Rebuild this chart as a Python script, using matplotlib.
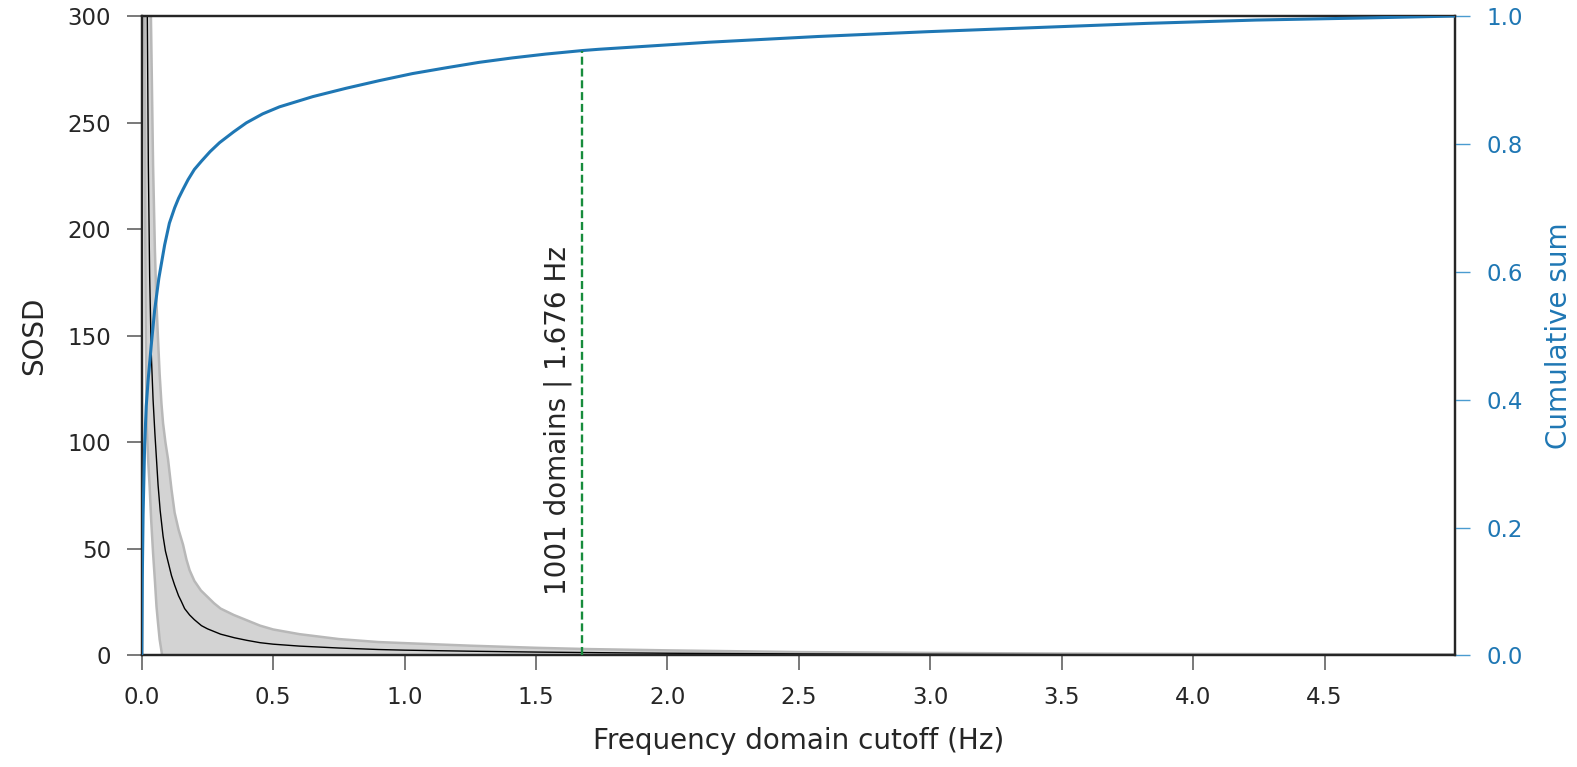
import matplotlib
matplotlib.use("Agg")
import matplotlib.pyplot as plt

# SOSD mean curve
freq_mean = [0.010, 0.015, 0.018, 0.021, 0.025, 0.030, 0.036, 0.043, 0.050, 0.056,
             0.062, 0.070, 0.081, 0.090, 0.100, 0.113, 0.125, 0.140, 0.150, 0.163,
             0.182, 0.200, 0.227, 0.250, 0.280, 0.300, 0.353, 0.400, 0.450, 0.500,
             0.600, 0.750, 0.900, 1.000, 1.250, 1.500, 1.750, 2.000, 2.500, 3.000,
             3.500, 4.000, 4.500, 4.995]
sosd_mean = [1500, 600, 420, 300, 230, 178, 142, 120, 104, 92,
             80, 68, 56, 49, 44, 37.5, 33, 28, 25.5, 22,
             19, 16.8, 14, 12.5, 11, 10, 8.3, 7.1, 6.0, 5.3,
             4.4, 3.5, 2.8, 2.5, 2.0, 1.6, 1.3, 1.05, 0.75, 0.55,
             0.4, 0.32, 0.27, 0.22]

# SOSD spread band (upper / lower edges)
freq_band = [0.000, 0.005, 0.010, 0.013, 0.015, 0.018, 0.025, 0.030, 0.036, 0.043,
             0.050, 0.056, 0.062, 0.068, 0.075, 0.081, 0.090, 0.100, 0.113, 0.125,
             0.140, 0.157, 0.170, 0.182, 0.200, 0.225, 0.250, 0.275, 0.300, 0.350,
             0.400, 0.450, 0.500, 0.600, 0.750, 0.900, 1.000, 1.250, 1.500, 1.700,
             2.000, 2.500, 3.000, 3.500, 4.000, 4.500, 4.995]
sosd_upper = [3000, 2000, 1200, 900, 750, 600, 420, 340, 290, 230,
              190, 165, 148, 132, 118, 109, 100, 92, 78, 67,
              59, 52, 45, 40, 35, 30.5, 27.5, 24.5, 22, 19,
              16.5, 14, 12.2, 10, 7.7, 6.3, 5.8, 4.6, 3.6, 3.0,
              2.4, 1.6, 1.2, 0.9, 0.7, 0.6, 0.5]
sosd_lower = [1500, 700, 300, 200, 155, 110, 90, 79, 63, 48,
              35, 23, 15, 7.5, 2, -3, -8, -10, -6, -5,
              -5, -5, -4, -4, -3, -3, -2.5, -2.5, -2.5, -2,
              -2, -2, -1.8, -1.5, -1, -0.6, -0.5, -0.5, -0.5, -0.5,
              -0.4, -0.4, -0.3, -0.3, -0.3, -0.3, -0.3]

# cumulative sum (right axis)
freq_cum = [0.000, 0.002, 0.005, 0.011, 0.017, 0.024, 0.036, 0.049, 0.065, 0.087,
            0.105, 0.125, 0.140, 0.157, 0.176, 0.200, 0.227, 0.260, 0.296, 0.350,
            0.398, 0.460, 0.524, 0.651, 0.777, 0.904, 1.030, 1.157, 1.284, 1.410,
            1.537, 1.676, 1.739, 2.156, 2.573, 2.989, 3.406, 3.823, 4.239, 4.656,
            4.995]
cum_sum = [0.0, 0.12, 0.22, 0.33, 0.39, 0.43, 0.485, 0.54, 0.59, 0.642,
           0.676, 0.700, 0.715, 0.729, 0.744, 0.760, 0.773, 0.788, 0.802, 0.819,
           0.833, 0.847, 0.858, 0.874, 0.887, 0.899, 0.910, 0.919, 0.9276, 0.9345,
           0.9405, 0.946, 0.948, 0.959, 0.968, 0.9755, 0.982, 0.9885, 0.9937, 0.997,
           1.0]

cutoff_freq = 1.676
cutoff_cum = 0.946
cutoff_label = "1001 domains | 1.676 Hz"

blue = "#1f77b4"
dark = "#262626"

plt.rcParams["font.family"] = ["DejaVu Sans"]

fig, ax = plt.subplots(figsize=(15.77, 7.67), dpi=100)
fig.subplots_adjust(left=0.0899, right=0.9224, top=0.9791, bottom=0.1454)

# band + mean
ax.fill_between(freq_band, sosd_lower, sosd_upper, facecolor="#d3d3d3",
                edgecolor="#b8b8b8", linewidth=1.8, zorder=1)
ax.plot(freq_mean, sosd_mean, color="black", linewidth=1.0, zorder=2)

ax.set_xlim(0, 4.995)
ax.set_ylim(0, 300)
ax.set_xticks([0.0, 0.5, 1.0, 1.5, 2.0, 2.5, 3.0, 3.5, 4.0, 4.5])
ax.set_xticklabels(["0.0", "0.5", "1.0", "1.5", "2.0", "2.5", "3.0", "3.5", "4.0", "4.5"])
ax.set_yticks([0, 50, 100, 150, 200, 250, 300])
ax.tick_params(axis="both", direction="out", length=11, width=1.1, pad=11,
               labelsize=16.5, color="#555555", labelcolor=dark)
ax.set_xlabel("Frequency domain cutoff (Hz)", fontsize=20, color=dark, labelpad=13)
ax.set_ylabel("SOSD", fontsize=20, color=dark, labelpad=14)
for s in ax.spines.values():
    s.set_color(dark)
    s.set_linewidth(1.6)

# cumulative sum on twin axis
ax2 = ax.twinx()
ax2.plot(freq_cum, cum_sum, color=blue, linewidth=2.2, zorder=3)
ax2.vlines(cutoff_freq, 0, cutoff_cum, colors="#178c3c", linewidth=1.7,
           linestyles=(0, (3.4, 1.6)), zorder=4)
ax2.text(cutoff_freq - 0.04, 0.095, cutoff_label, rotation=90, ha="right",
         va="bottom", fontsize=20, color=dark)
ax2.set_ylim(0, 1)
ax2.set_yticks([0.0, 0.2, 0.4, 0.6, 0.8, 1.0])
ax2.set_yticklabels(["0.0", "0.2", "0.4", "0.6", "0.8", "1.0"])
ax2.tick_params(axis="y", direction="out", length=11, width=1.0, pad=12,
                labelsize=16.5, color="#4a9bd0", labelcolor=blue)
ax2.set_ylabel("Cumulative sum", fontsize=20, color=blue, labelpad=16)
for s in ax2.spines.values():
    s.set_color(dark)
    s.set_linewidth(1.6)

fig.savefig("out.png", dpi=100)
